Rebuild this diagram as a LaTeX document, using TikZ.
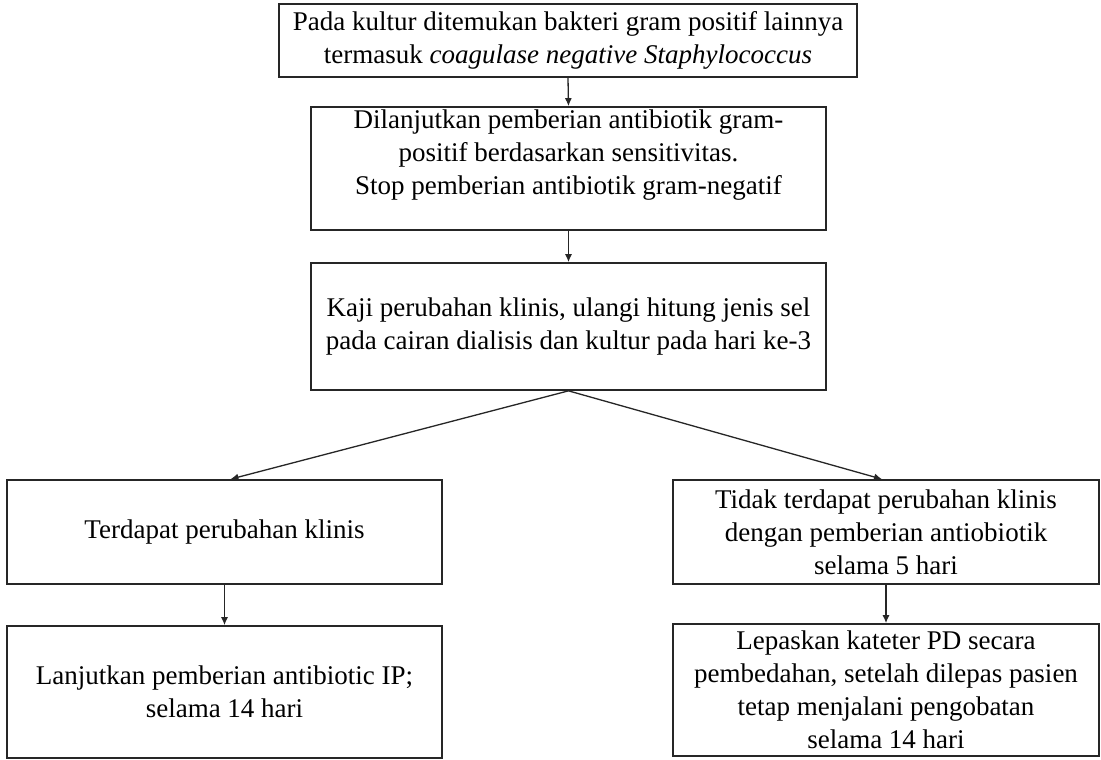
\documentclass[tikz,border=0pt]{standalone}
\usepackage{fontspec}
\setmainfont{Liberation Serif}
\usetikzlibrary{arrows.meta}
\begin{document}
\begin{tikzpicture}[x=1pt,y=-1pt,
  box/.style={draw=black!85, line width=1.7pt, rectangle, align=center, inner sep=0pt,
    font=\fontsize{27}{33}\selectfont},
  arr/.style={draw=black!85, line width=1.3pt, -{Latex[length=8pt,width=7pt]}}]
\useasboundingbox[fill=white] (0,0) rectangle (1101,760);
\node[box, minimum width=578pt, minimum height=73pt] (b1) at (568,40.5)
  {Pada kultur ditemukan bakteri gram positif lainnya\\termasuk \textit{coagulase negative Staphylococcus}};
\node[box, minimum width=515pt, minimum height=123pt] (b2) at (568.5,168.5)
  {Dilanjutkan pemberian antibiotik gram-\\positif berdasarkan sensitivitas.\\Stop pemberian antibiotik gram-negatif\\\mbox{}};
\node[box, minimum width=515pt, minimum height=127pt] (b3) at (568.5,326.5)
  {Kaji perubahan klinis, ulangi hitung jenis sel\\pada cairan dialisis dan kultur pada hari ke-3};
\node[box, minimum width=435pt, minimum height=104pt] (b4) at (224.5,532)
  {Terdapat perubahan klinis};
\node[box, minimum width=426pt, minimum height=104pt] (b5) at (886,532)
  {Tidak terdapat perubahan klinis\\dengan pemberian antiobiotik\\selama 5 hari};
\node[box, minimum width=435pt, minimum height=132pt] (b6) at (224.5,692)
  {Lanjutkan pemberian antibiotic IP;\\selama 14 hari};
\node[box, minimum width=426pt, minimum height=132pt] (b7) at (886,690)
  {Lepaskan kateter PD secara\\pembedahan, setelah dilepas pasien\\tetap menjalani pengobatan\\selama 14 hari};
\draw[arr] (b1.south) -- (b2.north);
\draw[arr] (b2.south) -- (b3.north);
\draw[arr] (b3.south) -- ([xshift=6pt]b4.north);
\draw[arr] (b3.south) -- ([xshift=-4pt]b5.north);
\draw[arr] (b4.south) -- (b6.north);
\draw[arr] (b5.south) -- (b7.north);
\end{tikzpicture}
\end{document}
